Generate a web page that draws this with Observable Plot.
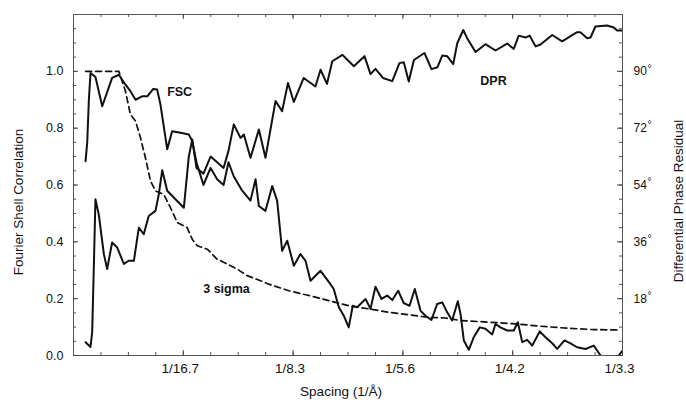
<!DOCTYPE html>
<html>
<head>
<meta charset="utf-8">
<script src="https://cdn.jsdelivr.net/npm/d3@7"></script>
<script src="https://cdn.jsdelivr.net/npm/@observablehq/plot@0.6"></script>
<style>
  html, body { margin: 0; padding: 0; background: #fff; }
  #chart { width: 686px; height: 408px; }
</style>
</head>
<body>
<div id="chart"></div>
<script>
// ---- Data (spatial frequency in 1/Å) ----
const fscX = [0.0066,0.0075,0.0084,0.0093,0.0120,0.0157,0.0211,0.0248,0.0284,0.0311,0.0339,0.0375,0.0403,0.0436,0.0457,0.0475,0.0512,0.0539,0.0585,0.0630,0.0649,0.0672,0.0710,0.0749,0.0785,0.0820,0.0847,0.0876,0.0922,0.0967,0.0995,0.1013,0.1049,0.1086,0.1113,0.1140,0.1168,0.1204,0.1240,0.1268,0.1295,0.1350,0.1404,0.1422,0.1450,0.1477,0.1504,0.1526,0.1550,0.1596,0.1623,0.1650,0.1683,0.1714,0.1742,0.1774,0.1805,0.1836,0.1865,0.1896,0.1923,0.1956,0.1987,0.2015,0.2042,0.2069,0.2100,0.2115,0.2133,0.2160,0.2187,0.2220,0.2251,0.2288,0.2306,0.2333,0.2370,0.2406,0.2428,0.2452,0.2479,0.2507,0.2548,0.2579,0.2616,0.2643,0.2683,0.2716,0.2752,0.2798,0.2843,0.2880,0.2935,0.2997];
const fscY = [0.684,0.75,0.90,0.994,0.98,0.877,0.977,0.988,0.953,0.93,0.90,0.912,0.912,0.938,0.936,0.884,0.726,0.789,0.784,0.778,0.754,0.68,0.60,0.66,0.62,0.60,0.68,0.63,0.58,0.545,0.62,0.526,0.509,0.596,0.544,0.368,0.404,0.316,0.357,0.333,0.263,0.298,0.251,0.234,0.17,0.14,0.099,0.175,0.17,0.199,0.164,0.242,0.199,0.211,0.195,0.228,0.184,0.175,0.234,0.158,0.14,0.125,0.181,0.187,0.152,0.123,0.191,0.146,0.053,0.02,0.064,0.099,0.094,0.074,0.111,0.099,0.088,0.088,0.117,0.047,0.055,0.035,0.085,0.064,0.043,0.023,0.053,0.043,0.029,0.023,0.035,0.0,-0.04,0.015];

const dprX = [0.0066,0.0093,0.0102,0.0111,0.0120,0.0138,0.0166,0.0184,0.0211,0.0239,0.0275,0.0302,0.0330,0.0357,0.0384,0.0411,0.0448,0.0466,0.0485,0.0512,0.0557,0.0603,0.0630,0.0649,0.0672,0.0710,0.0749,0.0785,0.0820,0.0847,0.0876,0.0913,0.0931,0.0967,0.1013,0.1049,0.1104,0.1140,0.1172,0.1204,0.1258,0.1322,0.1350,0.1385,0.1414,0.1470,0.1532,0.1590,0.1623,0.1650,0.1691,0.1742,0.1781,0.1805,0.1832,0.1860,0.1918,0.1956,0.1989,0.2015,0.2042,0.2075,0.2097,0.2130,0.2151,0.2197,0.2251,0.2306,0.2370,0.2406,0.2433,0.2470,0.2493,0.2525,0.2552,0.2616,0.2670,0.2752,0.2770,0.2807,0.2825,0.2852,0.2916,0.2952,0.2971,0.2998];
const dprDeg = [4.2,2.7,7.4,27.9,49.5,44.7,32.1,27.4,35.8,34.2,29.0,30.0,30.0,40.5,38.4,44.2,45.8,51.0,58.7,52.2,49.5,46.8,63.0,68.4,59.4,57.6,63.0,61.2,59.4,64.8,73.2,68.9,70.0,62.6,71.6,62.6,80.6,77.4,86.3,80.3,87.9,85.2,90.5,86.0,93.2,95.2,91.6,94.8,89.1,90.8,87.9,86.9,92.6,92.9,86.8,93.6,95.8,90.7,91.3,95.0,94.8,92.3,98.9,103.1,100.5,96.1,98.6,96.6,98.8,97.1,101.3,100.7,101.3,97.9,98.5,101.5,99.5,102.4,102.4,100.5,100.7,104.2,104.5,103.9,102.9,102.9];

const sigmaX = [0.0066,0.0248,0.0284,0.0311,0.0339,0.0366,0.0393,0.0421,0.0448,0.0493,0.0530,0.0567,0.0621,0.0649,0.0676,0.0731,0.0785,0.0840,0.0895,0.0949,0.1022,0.1067,0.1177,0.1286,0.1395,0.1504,0.1614,0.1723,0.1832,0.1942,0.2033,0.2115,0.2279,0.2425,0.2552,0.2698,0.2843,0.2989];
const sigmaY = [1.0,1.0,0.93,0.848,0.825,0.766,0.696,0.614,0.579,0.567,0.52,0.468,0.45,0.409,0.386,0.374,0.339,0.322,0.304,0.281,0.263,0.251,0.228,0.211,0.193,0.175,0.164,0.152,0.143,0.134,0.132,0.123,0.117,0.111,0.103,0.096,0.091,0.090];

// ---- Ticks ----
const xTickValues = [0.06, 0.12, 0.18, 0.24, 0.30];
const xTickLabels = ["1/16.7", "1/8.3", "1/5.6", "1/4.2", "1/3.3"];
const yTickValues = [0.0, 0.2, 0.4, 0.6, 0.8, 1.0];
const yTickLabels = ["0.0", "0.2", "0.4", "0.6", "0.8", "1.0"];
const dprTickValues = [18, 36, 54, 72, 90];
const dprTickLabels = ["18", "36", "54", "72", "90"];

const annotations = [
  {x: 0.058, y: 0.926, label: "FSC"},
  {x: 0.2295, y: 0.965, label: "DPR"},
  {x: 0.0836, y: 0.235, label: "3 sigma"}
];

const fsc = fscX.map((x, i) => ({x, y: fscY[i]}));
const dpr = dprX.map((x, i) => ({x, y: dprDeg[i] / 90}));
const sigma = sigmaX.map((x, i) => ({x, y: sigmaY[i]}));

const W = 686, H = 408, mL = 73, mR = 64, mT = 14, mB = 53;
const pw = W - mL - mR, ph = H - mT - mB;
const xMinor = d3.range(0, 0.3001, 0.015);
const yMinor = d3.range(0, 1.2001, 0.05);
const font = "'Liberation Sans', Arial, Helvetica, sans-serif";
const ink = "#111";

const chart = Plot.plot({
  width: W, height: H,
  marginLeft: mL, marginRight: mR, marginTop: mT, marginBottom: mB,
  x: {domain: [0, 0.3], axis: null},
  y: {domain: [0, 1.2], axis: null},
  style: {fontFamily: font, background: "#fff", color: ink, overflow: "visible"},
  marks: [
    Plot.frame({stroke: "#555", strokeWidth: 1}),
    // minor ticks (inward)
    Plot.tickX(xMinor, {x: d => d, insetBottom: ph - 3, stroke: "#555"}),
    Plot.tickX(xMinor, {x: d => d, insetTop: ph - 3, stroke: "#555"}),
    Plot.tickY(yMinor, {y: d => d, insetRight: pw - 3, stroke: "#555"}),
    Plot.tickY(yMinor, {y: d => d, insetLeft: pw - 3, stroke: "#555"}),
    // major ticks
    Plot.tickX(xTickValues, {x: d => d, insetBottom: ph - 5, stroke: "#444"}),
    Plot.tickX(xTickValues, {x: d => d, insetTop: ph - 5, stroke: "#444"}),
    Plot.tickY(yTickValues, {y: d => d, insetRight: pw - 5, stroke: "#444"}),
    Plot.tickY(yTickValues, {y: d => d, insetLeft: pw - 5, stroke: "#444"}),
    // tick labels
    Plot.text(xTickValues, {x: d => d, text: (d, i) => xTickLabels[i], frameAnchor: "bottom", dy: 13, dx: -3, lineAnchor: "middle", fontSize: 13.5, letterSpacing: "0.5px", fill: ink}),
    Plot.text(yTickValues, {y: d => d, text: (d, i) => yTickLabels[i], frameAnchor: "left", textAnchor: "end", dx: -10, fontSize: 12.5, letterSpacing: "0.5px", fill: ink}),
    Plot.text(dprTickValues, {y: d => d / 90, text: (d, i) => dprTickLabels[i], frameAnchor: "right", textAnchor: "start", dx: 11, fontSize: 12, fill: ink}),
    Plot.text(dprTickValues, {y: d => d / 90, text: () => "°", frameAnchor: "right", textAnchor: "start", dx: 25, dy: -3, fontSize: 10, fill: ink}),
    // axis titles
    Plot.text(["Fourier Shell Correlation"], {frameAnchor: "left", textAnchor: "middle", rotate: -90, dx: -55, dy: 17, fontSize: 13.5, letterSpacing: "1.3px", fill: ink}),
    Plot.text(["Differential Phase Residual"], {frameAnchor: "right", textAnchor: "middle", rotate: -90, dx: 56, dy: 16, fontSize: 13.5, letterSpacing: "1.4px", fill: ink}),
    Plot.text(["Spacing (1/Å)"], {frameAnchor: "bottom", dx: -7, dy: 40, fontSize: 13.5, letterSpacing: "1.2px", fill: ink}),
    // curves
    Plot.line(sigma, {x: "x", y: "y", stroke: ink, strokeWidth: 1.7, strokeDasharray: "6,4", clip: true}),
    Plot.line(dpr, {x: "x", y: "y", stroke: ink, strokeWidth: 2, strokeLinejoin: "round", clip: true}),
    Plot.line(fsc, {x: "x", y: "y", stroke: ink, strokeWidth: 2, strokeLinejoin: "round", clip: true}),
    // annotations
    Plot.text(annotations, {x: "x", y: "y", text: "label", fontSize: 12.5, fontWeight: "bold", letterSpacing: "0.5px", fill: ink})
  ]
});
document.getElementById("chart").appendChild(chart);
</script>
</body>
</html>
